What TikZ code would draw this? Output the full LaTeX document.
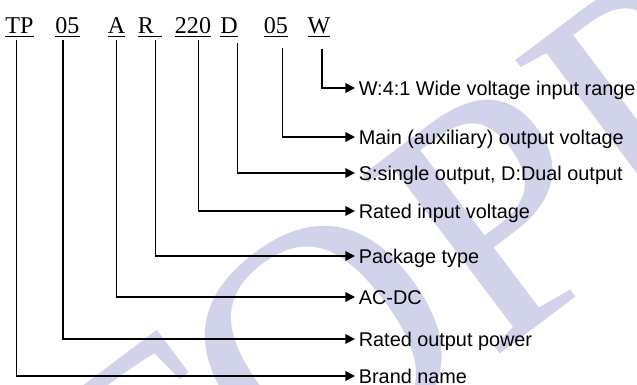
\documentclass[tikz,border=0pt]{standalone}
\usepackage{fontspec}
\setmainfont{Liberation Serif}
\setsansfont{Liberation Sans}
\usetikzlibrary{arrows.meta,calc}
\definecolor{wmark}{RGB}{208,211,234}
\tikzset{
  code/.style={anchor=base, inner sep=0pt, font=\fontsize{13.7}{14}\selectfont},
  desc/.style={anchor=west, inner sep=2pt, text height=8.3pt, text depth=0pt, font=\sffamily\fontsize{11.3}{13}\selectfont},
  arr/.style={line width=0.9pt, -{Triangle[length=5.5pt,width=5.5pt]}},
}

\begin{document}
\begin{tikzpicture}[x=0.02cm, y=-0.02cm]
  \useasboundingbox (0,0) rectangle (637,385);

  % watermark in the background
  \begin{scope}
    \clip (0,0) rectangle (637,385);
    \node[text=wmark, anchor=base west, inner sep=0pt, rotate=37, font=\fontsize{196}{196}\selectfont] (logo) at (129,634) {TOPP};
  \end{scope}

  % 1. the model code
  \node[code] (tp)   at (19.5,34)  {\underline{TP}};
  \node[code] (pow)  at (67.5,34)  {\underline{05}};
  \node[code] (acdc) at (116.6,34) {\underline{A}};
  \node[code] (pkg)  at (150,34)   {\underline{R\hspace{4.8pt}}};
  \node[code] (vin)  at (193,34)   {\underline{220}};
  \node[code] (dual) at (229,34)   {\underline{D}};
  \node[code] (vout) at (276,34)   {\underline{05}};
  \node[code] (wide) at (319,34)   {\underline{W}};

  % 2. what each part means
  \node[desc] (wideT)  at (355,88)  {W:4:1 Wide voltage input range};
  \node[desc] (voutT)  at (355,137) {Main (auxiliary) output voltage};
  \node[desc] (dualT)  at (355,173) {S:single output, D:Dual output};
  \node[desc] (vinT)   at (355,211) {Rated input voltage};
  \node[desc] (pkgT)   at (355,256) {Package type};
  \node[desc] (acdcT)  at (355,297) {AC-DC};
  \node[desc] (powT)   at (355,339) {Rated output power};
  \node[desc] (brandT) at (355,376) {Brand name};

  % 3. connectors
  \draw[arr] ($(tp.south)+(-3.2,2.4)$)  |- (brandT.west);
  \draw[arr] ($(pow.south)+(-4.5,2.4)$) |- (powT.west);
  \draw[arr] ($(acdc.south)+(0,2.4)$)   |- (acdcT.west);
  \draw[arr] ($(pkg.south)+(5.6,2.4)$)  |- (pkgT.west);
  \draw[arr] ($(vin.south)+(5.3,2.4)$)  |- (vinT.west);
  \draw[arr] ($(dual.south)+(8.7,5.4)$) |- (dualT.west);
  \draw[arr] ($(vout.south)+(6.3,10.4)$) |- (voutT.west);
  \draw[arr] ($(wide.south)+(3.2,10.4)$) |- (wideT.west);
\end{tikzpicture}
\end{document}
